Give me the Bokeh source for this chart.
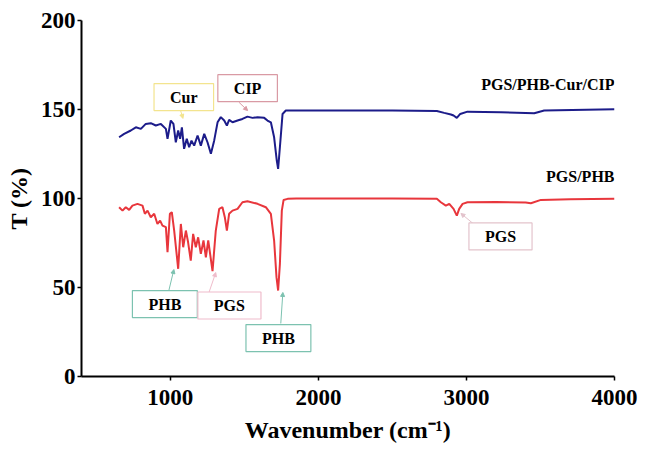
from bokeh.plotting import figure
from bokeh.models import Range1d, FixedTicker, Label, Arrow, NormalHead
from bokeh.embed import file_html
from bokeh.resources import INLINE

# ---- data ----
blue_wn = [654, 688, 733, 767, 801, 834, 868, 902, 936, 970, 981, 1003, 1021, 1037, 1053, 1066,
           1078, 1093, 1111, 1127, 1143, 1161, 1184, 1206, 1229, 1251, 1274, 1296, 1319, 1341,
           1364, 1382, 1397, 1420, 1454, 1487, 1521, 1555, 1589, 1634, 1656, 1679, 1701, 1719,
           1728, 1740, 1758, 1780, 1882, 2500, 2800, 2850, 2895, 2913, 2935, 2958, 3007, 3233,
           3458, 3525, 4000]
blue_t = [134.4, 136.3, 138.2, 140.0, 139.1, 141.9, 142.3, 141.0, 141.9, 139.1, 133.5, 143.8,
          141.9, 131.6, 138.2, 133.5, 140.0, 127.9, 133.5, 128.8, 132.5, 129.7, 135.4, 129.7,
          136.3, 131.6, 125.1, 132.5, 142.8, 145.7, 143.8, 141.0, 144.2, 142.8, 143.8, 144.7,
          146.0, 145.3, 145.7, 145.3, 143.8, 142.8, 134.4, 121.3, 116.6, 128.8, 147.5, 149.4,
          149.4, 149.4, 149.2, 148.1, 147.2, 146.6, 145.3, 147.5, 148.8, 148.5, 147.9, 149.4,
          150.2]

red_wn = [654, 677, 699, 722, 744, 778, 812, 828, 846, 868, 891, 913, 931, 947, 970, 981, 997,
          1010, 1026, 1053, 1071, 1087, 1105, 1120, 1138, 1154, 1172, 1188, 1206, 1224, 1240,
          1256, 1285, 1307, 1330, 1352, 1368, 1382, 1397, 1420, 1454, 1487, 1521, 1589, 1645,
          1679, 1701, 1717, 1728, 1740, 1753, 1765, 1792, 1850, 2500, 2800, 2827, 2861, 2884,
          2913, 2935, 2951, 2974, 3007, 3200, 3400, 3435, 3503, 3700, 4000]
red_t = [95.1, 93.2, 95.1, 93.6, 96.0, 97.0, 96.0, 91.4, 93.2, 89.5, 91.4, 85.7, 87.6, 84.8,
         83.9, 69.8, 91.4, 92.3, 82.0, 60.5, 85.7, 72.6, 82.0, 75.4, 65.1, 80.1, 72.6, 78.2,
         68.9, 76.4, 67.0, 76.4, 59.2, 82.0, 94.2, 95.1, 89.5, 82.0, 91.4, 93.2, 94.2, 97.9,
         98.5, 97.0, 95.1, 91.4, 76.4, 55.8, 48.3, 63.3, 93.2, 99.2, 99.8, 100.0, 100.0, 99.8,
         97.9, 96.0, 97.0, 94.2, 90.4, 94.2, 97.0, 97.9, 98.0, 97.8, 97.3, 99.2, 99.6, 99.8]

x_ticks = [1000, 2000, 3000, 4000]
y_ticks = [0, 50, 100, 150, 200]

series_names = ["PGS/PHB-Cur/CIP", "PGS/PHB"]
series_label_y = [164, 112.4]

# annotation boxes: text, x, y, border colour
ann_text = ["Cur", "CIP", "PHB", "PGS", "PHB", "PGS"]
ann_x = [1091, 1522, 963, 1399, 1730, 3230]
ann_y = [157, 162, 40.7, 39.9, 21.6, 78.7]
ann_col = ["#f3e48e", "#d99aa4", "#7cc2b0", "#efbccb", "#7cc2b0", "#e3c3cc"]
# leader lines: start (box) -> end (peak)
lead_x0 = [1065, 1463, 990, 1261, 1746, 3044]
lead_y0 = [150.6, 154.1, 48.3, 47.2, 29.8, 86.0]
lead_x1 = [1085, 1522, 1024, 1307, 1760, 2963]
lead_y1 = [145.0, 149.4, 60.1, 58.4, 47.2, 91.6]

FONT = "Liberation Serif"

p = figure(width=640, height=445, output_backend="svg", toolbar_location=None,
           x_range=Range1d(400, 4000), y_range=Range1d(0, 200),
           min_border_left=81, min_border_top=20, min_border_right=26, min_border_bottom=69)
p.outline_line_color = None
p.xgrid.visible = False
p.ygrid.visible = False

p.line(blue_wn, blue_t, line_color="#1c1c8a", line_width=2)
p.line(red_wn, red_t, line_color="#e8363c", line_width=2)

for ax in (p.xaxis[0], p.yaxis[0]):
    ax.axis_line_width = 2
    ax.axis_line_color = "black"
    ax.major_tick_line_width = 1.5
    ax.major_tick_in = 0
    ax.major_tick_out = 4
    ax.minor_tick_line_color = None
    ax.major_label_text_font = FONT
    ax.major_label_text_font_style = "bold"
    ax.major_label_text_font_size = "23px"
    ax.major_label_text_color = "black"
    ax.axis_label_text_font = FONT
    ax.axis_label_text_font_style = "bold"
    ax.axis_label_text_font_size = "24px"
    ax.axis_label_text_color = "black"

p.xaxis[0].ticker = FixedTicker(ticks=x_ticks)
p.yaxis[0].ticker = FixedTicker(ticks=y_ticks)
p.xaxis[0].axis_label = "Wavenumber (cm\u207b\u00b9)"
p.yaxis[0].axis_label = "T (%)"
p.xaxis[0].major_label_standoff = 9
p.yaxis[0].major_label_standoff = 2
p.xaxis[0].axis_label_standoff = 9
p.yaxis[0].axis_label_standoff = 6

for name, yy in zip(series_names, series_label_y):
    p.add_layout(Label(x=4000, y=yy, text=name, text_align="right", text_baseline="middle",
                       text_font=FONT, text_font_style="bold", text_font_size="16px",
                       text_color="black"))

for i in range(len(ann_text)):
    p.add_layout(Arrow(x_start=lead_x0[i], y_start=lead_y0[i], x_end=lead_x1[i], y_end=lead_y1[i],
                       line_color=ann_col[i], line_width=1,
                       end=NormalHead(size=4, line_color=ann_col[i], fill_color=ann_col[i])))
    p.add_layout(Label(x=ann_x[i], y=ann_y[i], text=ann_text[i], text_align="center",
                       text_baseline="middle", text_font=FONT, text_font_style="bold",
                       text_font_size="16px", text_color="black",
                       background_fill_color="white", border_line_color=ann_col[i],
                       border_line_width=1.2, padding=(16, 16, 5, 5)))

open("out.html", "w").write(file_html(p, INLINE))
